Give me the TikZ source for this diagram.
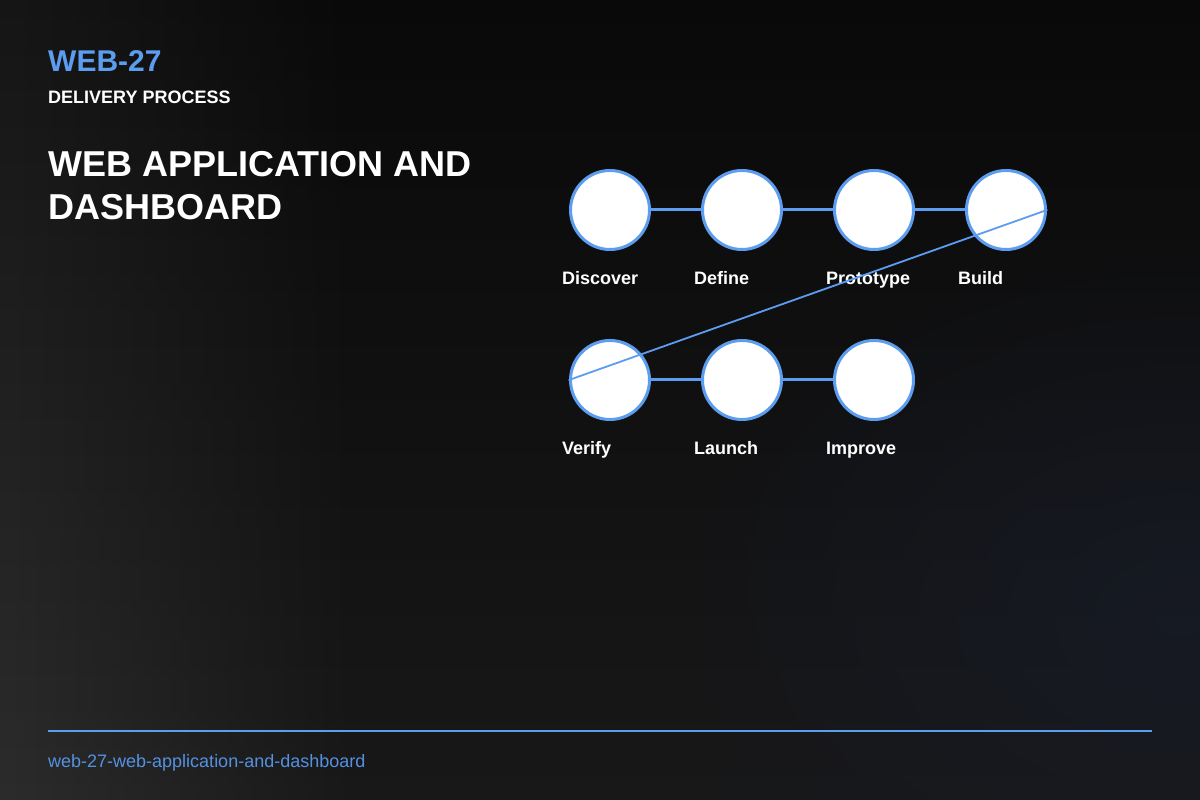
\documentclass[tikz,border=0pt]{standalone}
\usepackage{fontspec}
\setmainfont{Liberation Sans}
\usetikzlibrary{positioning,fadings}

\definecolor{stepblue}{RGB}{92,157,240}
\definecolor{footblue}{RGB}{84,145,225}
\definecolor{bgtop}{RGB}{9,9,10}
\definecolor{bgbottom}{RGB}{24,24,25}
\definecolor{sidetop}{RGB}{22,22,22}
\definecolor{sidebottom}{RGB}{44,44,44}
\definecolor{bgglow}{RGB}{23,28,40}

\tikzfading[name=glowfade,inner color=transparent!0,outer color=transparent!100]

\begin{document}
\begin{tikzpicture}[x=1pt,y=1pt,line cap=round,line join=round,
    stepcircle/.style={circle,draw=stepblue,fill=white,line width=3pt,
        minimum size=79pt,inner sep=0pt},
    steplink/.style={draw=stepblue,line width=3pt,line cap=butt},
    backlink/.style={draw=stepblue,line width=1.8pt},
    steplabel/.style={anchor=base west,inner sep=0pt,text=white,
        font=\fontsize{18}{21}\selectfont\bfseries},
    node distance=50pt]
    \useasboundingbox (0,0) rectangle (1200,800);

    % background
    \fill[bgtop] (-2,-2) rectangle (1202,802);
    \shade[top color=bgtop,bottom color=bgbottom] (-2,-2) rectangle (1202,802);
    \shade[top color=sidetop,bottom color=sidebottom,path fading=east]
        (-2,-2) rectangle (360,802);
    \fill[bgglow,path fading=glowfade,opacity=.75] (1180,180) ellipse (520 and 380);

    % heading
    \node[anchor=base west,inner sep=0pt,text=stepblue,
        font=\fontsize{30}{36}\selectfont\bfseries] (code) at (48,728) {WEB-27};
    \node[anchor=base west,inner sep=0pt,text=white,
        font=\fontsize{18}{21}\selectfont\bfseries] (kind) at (48,696) {DELIVERY PROCESS};
    \node[anchor=base west,inner sep=0pt,text=white,
        font=\fontsize{36}{43}\selectfont\bfseries] (title1) at (48,623) {WEB APPLICATION AND};
    \node[anchor=base west,inner sep=0pt,text=white,
        font=\fontsize{36}{43}\selectfont\bfseries] (title2) at (48,580) {DASHBOARD};

    % steps
    \node[stepcircle] (discover) at (610,590) {};
    \node[stepcircle,right=of discover] (define) {};
    \node[stepcircle,right=of define] (prototype) {};
    \node[stepcircle,right=of prototype] (build) {};
    \node[stepcircle,below=88pt of discover] (verify) {};
    \node[stepcircle,right=of verify] (launch) {};
    \node[stepcircle,right=of launch] (improve) {};

    \draw[steplink] (discover) -- (define);
    \draw[steplink] (define) -- (prototype);
    \draw[steplink] (prototype) -- (build);
    \draw[steplink] (verify) -- (launch);
    \draw[steplink] (launch) -- (improve);

    \node[steplabel] (discover-lbl) at ([xshift=-48pt,yshift=-75pt]discover.center) {Discover};
    \node[steplabel] (define-lbl) at ([xshift=-48pt,yshift=-75pt]define.center) {Define};
    \node[steplabel] (prototype-lbl) at ([xshift=-48pt,yshift=-75pt]prototype.center) {Prototype};
    \node[steplabel] (build-lbl) at ([xshift=-48pt,yshift=-75pt]build.center) {Build};
    \node[steplabel] (verify-lbl) at ([xshift=-48pt,yshift=-75pt]verify.center) {Verify};
    \node[steplabel] (launch-lbl) at ([xshift=-48pt,yshift=-75pt]launch.center) {Launch};
    \node[steplabel] (improve-lbl) at ([xshift=-48pt,yshift=-75pt]improve.center) {Improve};

    \draw[backlink] (build.east) -- (verify.west);

    % footer
    \coordinate (rule-l) at (48,69);
    \coordinate (rule-r) at (1152,69);
    \draw[stepblue,line width=2pt,line cap=butt] (rule-l) -- (rule-r);
    \node[anchor=base west,inner sep=0pt,text=footblue,
        font=\fontsize{18}{21}\selectfont] (slug) at (48,32) {web-27-web-application-and-dashboard};
\end{tikzpicture}
\end{document}
